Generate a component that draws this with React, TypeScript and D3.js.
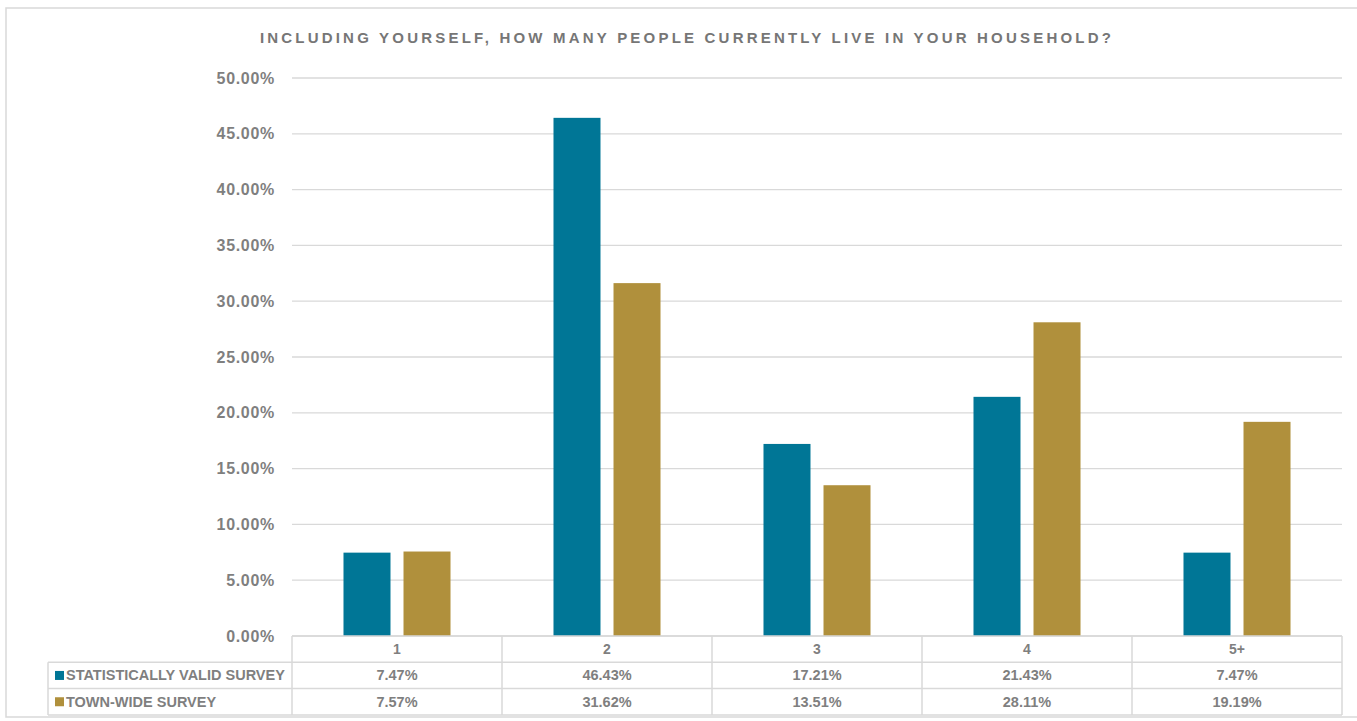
import React from "react";
import * as d3 from "d3";

const categories = ["1", "2", "3", "4", "5+"];
const seriesNames = ["STATISTICALLY VALID SURVEY", "TOWN-WIDE SURVEY"];
const statValid = [7.47, 46.43, 17.21, 21.43, 7.47];
const townWide = [7.57, 31.62, 13.51, 28.11, 19.19];
const yTicks = [0, 5, 10, 15, 20, 25, 30, 35, 40, 45, 50];
const colors = ["#007696", "#B0903C"];
const title = "INCLUDING YOURSELF, HOW MANY PEOPLE CURRENTLY LIVE IN YOUR HOUSEHOLD?";

export default function App() {
  const W = 1357, H = 721;
  const left = 292, right = 1342, top = 78, bottom = 636;
  const rowH = 26.3;
  const tableLeft = 48;
  const series = [statValid, townWide];

  const x0 = d3.scaleBand<string>().domain(categories).range([left, right]).padding(0);
  const x1 = d3.scaleBand<string>().domain(seriesNames).range([0, x0.bandwidth()])
    .paddingInner(0.2167).paddingOuter(0.858);
  const y = d3.scaleLinear().domain([0, 50]).range([bottom, top]);

  const grey = "#7F7F7F";
  const lineC = "#D9D9D9";
  const font = "'Liberation Sans', Arial, sans-serif";

  return (
    <svg width={W} height={H} style={{ position: "absolute", left: 0, top: 0, background: "#fff" }}>
      <rect x={6} y={8} width={1360} height={709} fill="#fff" stroke={lineC} strokeWidth={1.5} />
      <text x={687} y={43} textAnchor="middle" fontFamily={font} fontWeight="bold" fontSize={15}
        letterSpacing={3.2} fill="#767676">{title}</text>
      {yTicks.map((t) => (
        <g key={t}>
          <line x1={left} x2={right} y1={y(t)} y2={y(t)} stroke={lineC} strokeWidth={1.3} />
          <text x={275} y={y(t) + 5.5} textAnchor="end" fontFamily={font} fontWeight="bold" fontSize={16}
            letterSpacing={0.7} fill={grey}>{t.toFixed(2) + "%"}</text>
        </g>
      ))}
      {categories.map((c, i) => (
        <g key={c}>
          {seriesNames.map((s, j) => (
            <rect key={s} x={x0(c)! + x1(s)!} width={x1.bandwidth()} y={y(series[j][i])}
              height={y(0) - y(series[j][i])} fill={colors[j]} />
          ))}
        </g>
      ))}
      {/* data table */}
      <g stroke={lineC} strokeWidth={1.5} fill="none">
        <line x1={left} x2={right} y1={bottom} y2={bottom} />
        <line x1={tableLeft} x2={right} y1={bottom + rowH} y2={bottom + rowH} />
        <line x1={tableLeft} x2={right} y1={bottom + 2 * rowH} y2={bottom + 2 * rowH} />
        <line x1={tableLeft} x2={right} y1={bottom + 3 * rowH} y2={bottom + 3 * rowH} />
        <line x1={tableLeft} x2={tableLeft} y1={bottom + rowH} y2={bottom + 3 * rowH} />
        {categories.map((c) => (
          <line key={c} x1={x0(c)!} x2={x0(c)!} y1={bottom} y2={bottom + 3 * rowH} />
        ))}
        <line x1={right} x2={right} y1={bottom} y2={bottom + 3 * rowH} />
      </g>
      {categories.map((c) => (
        <text key={c} x={x0(c)! + x0.bandwidth() / 2} y={bottom + rowH / 2 + 5} textAnchor="middle"
          fontFamily={font} fontWeight="bold" fontSize={14} fill={grey}>{c}</text>
      ))}
      {seriesNames.map((s, j) => (
        <g key={s}>
          <rect x={55} y={bottom + rowH * (j + 1) + rowH / 2 - 4.5} width={9} height={9} fill={colors[j]} />
          <text x={66} y={bottom + rowH * (j + 1) + rowH / 2 + 5} fontFamily={font} fontWeight="bold"
            fontSize={14.5} fill={grey}>{s}</text>
          {categories.map((c, i) => (
            <text key={c} x={x0(c)! + x0.bandwidth() / 2} y={bottom + rowH * (j + 1) + rowH / 2 + 5}
              textAnchor="middle" fontFamily={font} fontWeight="bold" fontSize={14.5} fill={grey}>
              {series[j][i].toFixed(2) + "%"}
            </text>
          ))}
        </g>
      ))}
    </svg>
  );
}
